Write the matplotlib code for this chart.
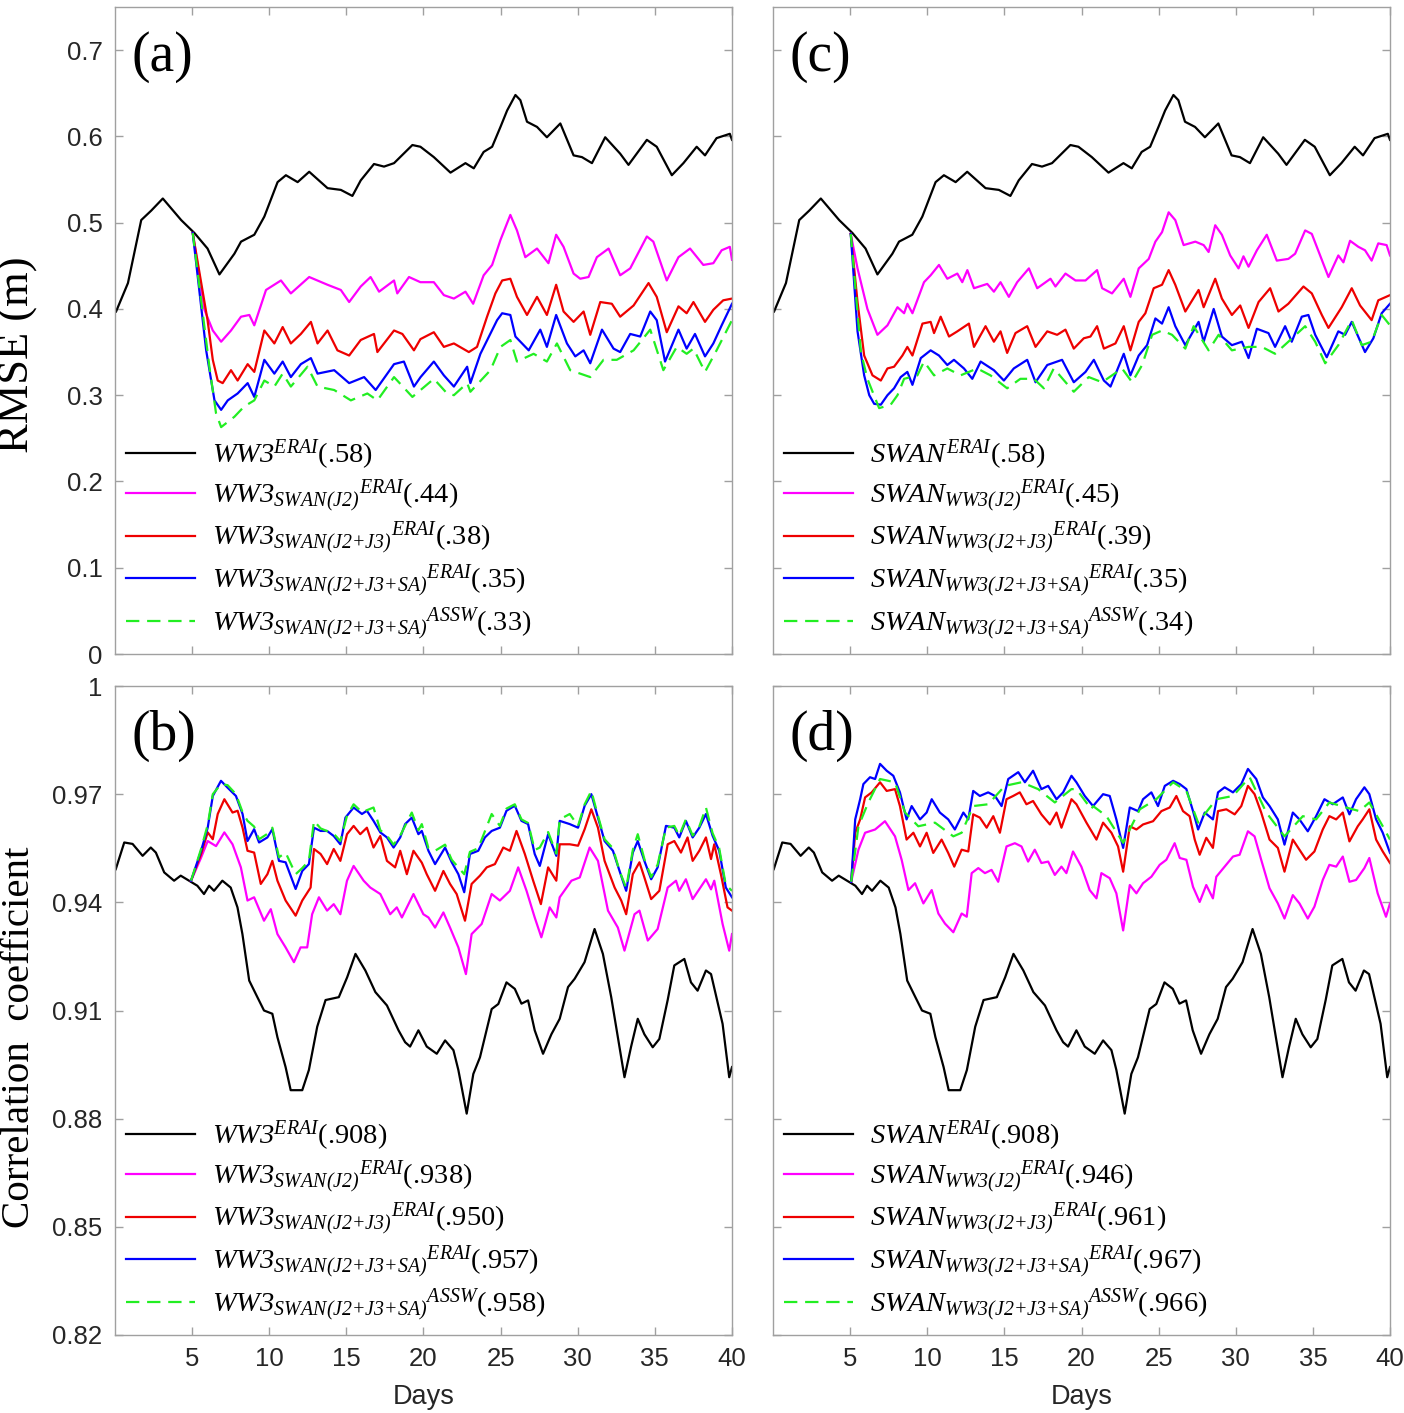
import numpy as np
import matplotlib
matplotlib.use("Agg")
import matplotlib.pyplot as plt
from matplotlib.font_manager import FontProperties

plt.rcParams['font.family'] = ['Liberation Sans', 'DejaVu Sans']
plt.rcParams['mathtext.fontset'] = 'custom'
plt.rcParams['mathtext.it'] = 'Liberation Serif:italic'
plt.rcParams['mathtext.rm'] = 'Liberation Serif:italic'
plt.rcParams['mathtext.bf'] = 'Liberation Serif:bold'

# ---------------- data (day, value) ----------------
bk_rmse = [(0.07,0.397),(0.84,0.430),(1.70,0.503),(2.35,0.514),(3.10,0.528),(4.29,0.503),(5.15,0.488),
 (6.00,0.470),(6.77,0.440),(7.74,0.464),(8.17,0.478),(9.03,0.486),(9.68,0.507),(10.54,0.547),(11.08,0.555),
 (11.84,0.547),(12.59,0.559),(13.78,0.540),(14.64,0.538),(15.39,0.531),(15.93,0.549),(16.79,0.568),
 (17.44,0.565),(18.09,0.569),(19.28,0.590),(19.80,0.588),(20.67,0.576),(21.75,0.558),(22.72,0.569),
 (23.26,0.563),(23.90,0.582),(24.45,0.588),(24.99,0.611),(25.42,0.630),(25.96,0.648),(26.28,0.642),
 (26.71,0.617),(27.36,0.611),(28.00,0.599),(28.87,0.615),(29.73,0.578),(30.27,0.576),(30.92,0.569),
 (31.78,0.599),(32.75,0.580),(33.29,0.567),(34.48,0.596),(35.12,0.588),(36.10,0.555),(36.85,0.569),
 (37.71,0.588),(38.25,0.578),(39.00,0.598),(39.86,0.603),(40.00,0.596)]

a_mag = [(5.04,0.488),(5.80,0.399),(6.34,0.375),(6.88,0.362),(7.52,0.375),(8.17,0.391),(8.71,0.393),
 (9.03,0.381),(9.79,0.422),(10.76,0.433),(11.40,0.418),(12.59,0.437),(13.78,0.428),(14.64,0.422),
 (15.18,0.408),(15.93,0.426),(16.57,0.437),(17.12,0.420),(18.09,0.433),(18.30,0.418),(19.06,0.437),
 (19.80,0.431),(20.67,0.431),(21.32,0.416),(21.97,0.412),(22.72,0.420),(23.22,0.406),(23.90,0.439),
 (24.45,0.451),(24.99,0.480),(25.63,0.509),(26.06,0.491),(26.60,0.460),(27.36,0.470),(28.10,0.453),
 (28.60,0.486),(29.08,0.472),(29.73,0.441),(30.16,0.435),(30.70,0.437),(31.24,0.460),(32.00,0.470),
 (32.75,0.439),(33.40,0.447),(34.48,0.484),(34.90,0.478),(35.77,0.433),(36.53,0.460),(37.28,0.470),
 (38.14,0.451),(38.79,0.453),(39.33,0.468),(39.86,0.472),(40.00,0.457)]

a_red = [(5.04,0.488),(6.00,0.387),(6.34,0.341),(6.66,0.317),(6.98,0.314),(7.52,0.329),(7.95,0.317),
 (8.60,0.336),(9.03,0.327),(9.68,0.375),(10.33,0.360),(10.87,0.379),(11.40,0.360),(12.05,0.371),
 (12.70,0.385),(13.13,0.360),(13.78,0.375),(14.42,0.352),(15.18,0.346),(15.93,0.364),(16.79,0.371),
 (17.01,0.350),(18.09,0.375),(18.63,0.371),(19.38,0.352),(19.80,0.365),(20.67,0.373),(21.32,0.356),
 (21.97,0.360),(22.94,0.350),(23.47,0.356),(24.12,0.391),(24.66,0.418),(25.10,0.433),(25.63,0.435),
 (26.06,0.414),(26.71,0.393),(27.36,0.414),(28.00,0.393),(28.60,0.428),(29.08,0.397),(29.73,0.385),
 (30.38,0.397),(30.81,0.370),(31.46,0.408),(32.21,0.406),(32.75,0.391),(33.62,0.404),(34.59,0.430),
 (35.12,0.414),(35.77,0.373),(36.53,0.403),(37.06,0.395),(37.50,0.408),(38.25,0.385),(38.79,0.399),
 (39.43,0.410),(40.00,0.412)]

a_blu = [(5.04,0.488),(5.91,0.352),(6.45,0.294),(6.88,0.283),(7.31,0.294),(7.95,0.302),(8.60,0.314),
 (9.03,0.298),(9.68,0.341),(10.33,0.325),(10.87,0.339),(11.40,0.321),(12.05,0.336),(12.70,0.343),
 (13.13,0.325),(14.21,0.329),(15.18,0.314),(16.15,0.321),(16.90,0.306),(18.09,0.336),(18.73,0.339),
 (19.38,0.310),(19.81,0.321),(20.67,0.339),(21.32,0.323),(21.97,0.310),(22.83,0.333),(23.04,0.314),
 (23.69,0.348),(24.77,0.387),(25.10,0.395),(25.63,0.393),(25.96,0.368),(26.82,0.352),(27.57,0.376),
 (28.00,0.356),(28.60,0.393),(29.30,0.360),(29.84,0.345),(30.38,0.352),(30.81,0.337),(31.57,0.376),
 (32.32,0.354),(32.75,0.350),(33.40,0.371),(34.05,0.368),(34.70,0.397),(35.12,0.387),(35.66,0.339),
 (36.53,0.376),(37.06,0.354),(37.60,0.371),(38.25,0.345),(38.79,0.360),(39.33,0.381),(40.00,0.406)]

a_grn = [(5.04,0.488),(6.12,0.333),(6.55,0.279),(6.88,0.263),(7.74,0.275),(8.38,0.287),(9.03,0.294),
 (9.68,0.317),(10.33,0.310),(10.87,0.325),(11.40,0.310),(12.48,0.333),(13.13,0.310),(14.21,0.306),
 (15.29,0.294),(16.36,0.302),(17.01,0.294),(18.09,0.321),(19.28,0.298),(19.81,0.306),(20.67,0.319),
 (21.53,0.302),(21.97,0.300),(22.83,0.314),(23.04,0.304),(24.34,0.329),(24.99,0.356),(25.63,0.364),
 (26.06,0.339),(27.14,0.348),(28.00,0.339),(28.65,0.360),(29.51,0.329),(30.81,0.321),(31.67,0.341),
 (32.53,0.341),(33.62,0.352),(34.70,0.376),(35.55,0.329),(36.42,0.356),(37.06,0.348),(37.50,0.354),
 (38.25,0.327),(39.00,0.352),(40.00,0.387)]

c_mag = [(5.04,0.487),(5.48,0.447),(6.12,0.400),(6.77,0.370),(7.42,0.381),(8.07,0.402),(8.50,0.395),
 (8.71,0.406),(9.04,0.395),(9.79,0.431),(10.22,0.439),(10.76,0.451),(11.30,0.435),(11.95,0.441),
 (12.27,0.431),(12.60,0.445),(13.03,0.424),(13.89,0.429),(14.32,0.420),(14.75,0.431),(15.29,0.414),
 (15.83,0.431),(16.59,0.447),(17.13,0.424),(17.99,0.435),(18.31,0.426),(18.96,0.441),(19.61,0.433),
 (20.26,0.433),(21.01,0.445),(21.34,0.424),(21.98,0.418),(22.74,0.435),(23.17,0.414),(23.71,0.447),
 (24.36,0.458),(24.79,0.478),(25.22,0.489),(25.65,0.512),(26.08,0.503),(26.62,0.474),(27.38,0.478),
 (27.92,0.474),(28.24,0.466),(28.67,0.497),(29.10,0.486),(29.64,0.462),(30.18,0.447),(30.50,0.461),
 (30.83,0.449),(31.37,0.468),(32.01,0.486),(32.66,0.456),(33.41,0.458),(33.85,0.464),(34.50,0.491),
 (34.93,0.487),(36.01,0.437),(36.65,0.462),(36.98,0.454),(37.41,0.479),(37.95,0.472),(38.38,0.468),
 (38.81,0.456),(39.24,0.476),(39.78,0.474),(40.00,0.462)]

c_red = [(5.04,0.487),(5.48,0.408),(5.91,0.346),(6.45,0.323),(6.99,0.317),(7.42,0.331),(7.85,0.333),
 (8.39,0.346),(8.71,0.356),(9.04,0.346),(9.69,0.383),(10.22,0.385),(10.44,0.372),(10.87,0.391),
 (11.41,0.368),(11.95,0.374),(12.70,0.383),(13.03,0.356),(13.78,0.380),(14.32,0.362),(14.75,0.374),
 (15.18,0.349),(15.72,0.372),(16.48,0.380),(17.02,0.356),(17.78,0.374),(18.42,0.370),(18.96,0.376),
 (19.50,0.354),(20.15,0.366),(20.58,0.368),(21.01,0.380),(21.45,0.354),(22.20,0.360),(22.74,0.380),
 (23.17,0.352),(23.71,0.385),(24.14,0.395),(24.68,0.424),(25.22,0.428),(25.65,0.445),(26.08,0.428),
 (26.73,0.397),(27.59,0.422),(27.92,0.402),(28.67,0.435),(29.10,0.412),(29.75,0.393),(30.29,0.404),
 (30.83,0.378),(31.48,0.408),(32.23,0.424),(32.77,0.397),(33.41,0.406),(34.39,0.426),(34.93,0.418),
 (35.58,0.393),(36.01,0.378),(36.87,0.402),(37.52,0.424),(38.06,0.404),(38.81,0.387),(39.24,0.410),
 (40.00,0.416)]

c_blu = [(5.04,0.487),(5.48,0.374),(5.91,0.323),(6.24,0.300),(6.56,0.290),(6.99,0.289),(7.42,0.300),
 (7.85,0.308),(8.28,0.321),(8.71,0.327),(9.04,0.312),(9.58,0.343),(10.22,0.352),(10.76,0.346),
 (11.30,0.335),(11.73,0.341),(12.38,0.331),(12.92,0.319),(13.46,0.339),(14.32,0.329),(14.97,0.317),
 (15.61,0.331),(16.48,0.341),(17.02,0.315),(17.78,0.335),(18.74,0.341),(19.50,0.315),(20.26,0.327),
 (20.80,0.341),(21.45,0.317),(21.88,0.310),(22.74,0.348),(23.17,0.323),(23.71,0.346),(24.25,0.358),
 (24.79,0.389),(25.22,0.383),(25.65,0.402),(26.08,0.380),(26.73,0.358),(27.59,0.385),(27.92,0.362),
 (28.57,0.400),(29.10,0.368),(29.75,0.358),(30.40,0.362),(30.83,0.343),(31.37,0.377),(32.12,0.372),
 (32.55,0.356),(33.20,0.380),(33.63,0.362),(34.28,0.391),(34.71,0.393),(35.15,0.370),(35.90,0.344),
 (36.65,0.374),(37.09,0.370),(37.52,0.385),(38.38,0.350),(38.92,0.366),(39.46,0.395),(40.00,0.406)]

c_grn = [(5.04,0.487),(5.70,0.350),(6.12,0.319),(6.88,0.285),(7.63,0.289),(8.07,0.300),(8.50,0.319),
 (9.36,0.323),(9.79,0.339),(10.44,0.323),(11.30,0.331),(12.16,0.323),(13.24,0.331),(14.10,0.323),
 (15.18,0.308),(16.04,0.319),(16.91,0.319),(17.56,0.308),(18.20,0.331),(19.50,0.304),(20.47,0.321),
 (21.34,0.315),(21.98,0.323),(22.63,0.331),(23.28,0.315),(23.93,0.335),(24.58,0.370),(25.22,0.375),
 (25.87,0.370),(26.73,0.354),(27.27,0.380),(28.24,0.352),(28.89,0.370),(29.75,0.352),(30.83,0.356),
 (31.69,0.356),(32.55,0.348),(33.41,0.362),(34.50,0.380),(35.15,0.362),(35.80,0.337),(36.65,0.358),
 (37.52,0.387),(38.17,0.358),(38.81,0.362),(39.46,0.393),(40.00,0.381)]

bk_corr = [(0.05,0.9492),(0.60,0.9566),(1.14,0.9562),(1.79,0.9529),(2.32,0.9552),(2.65,0.9538),
 (3.19,0.9483),(3.83,0.9460),(4.26,0.9474),(4.80,0.9460),(5.34,0.9446),(5.77,0.9423),(6.10,0.9446),
 (6.42,0.9432),(6.96,0.9460),(7.50,0.9441),(7.94,0.9386),(8.26,0.9312),(8.70,0.9183),(9.23,0.9137),
 (9.66,0.9100),(10.20,0.9091),(10.53,0.9026),(11.06,0.8943),(11.39,0.8879),(12.14,0.8879),
 (12.57,0.8935),(13.11,0.9055),(13.65,0.9129),(14.51,0.9137),(15.05,0.9192),(15.59,0.9257),
 (16.23,0.9211),(16.88,0.9151),(17.63,0.9114),(18.38,0.9045),(18.81,0.9012),(19.13,0.9000),
 (19.67,0.9045),(20.21,0.9000),(20.86,0.8980),(21.40,0.9017),(21.94,0.8990),(22.26,0.8935),
 (22.80,0.8814),(23.23,0.8924),(23.66,0.8970),(24.42,0.9104),(24.85,0.9118),(25.38,0.9178),
 (25.92,0.9160),(26.35,0.9119),(26.78,0.9128),(27.21,0.9045),(27.75,0.8980),(28.29,0.9034),
 (28.83,0.9077),(29.37,0.9165),(29.80,0.9188),(30.44,0.9234),(31.09,0.9326),(31.63,0.9257),
 (32.17,0.9137),(33.03,0.8915),(33.46,0.9000),(33.89,0.9077),(34.32,0.9034),(34.86,0.8998),
 (35.29,0.9021),(35.83,0.9129),(36.26,0.9225),(36.91,0.9243),(37.34,0.9178),(37.77,0.9155),
 (38.31,0.9211),(38.64,0.9201),(39.39,0.9063),(39.82,0.8915),(40.00,0.8943)]

b_mag = [(4.93,0.9460),(5.58,0.9524),(6.01,0.9570),(6.55,0.9556),(7.09,0.9594),(7.62,0.9561),
 (8.16,0.9497),(8.59,0.9405),(9.02,0.9414),(9.66,0.9349),(10.10,0.9381),(10.53,0.9312),(11.06,0.9275),
 (11.60,0.9234),(12.03,0.9275),(12.46,0.9275),(12.78,0.9367),(13.22,0.9414),(13.75,0.9377),
 (14.18,0.9395),(14.61,0.9367),(15.04,0.9460),(15.47,0.9501),(16.12,0.9460),(16.55,0.9441),
 (17.20,0.9423),(17.84,0.9367),(18.27,0.9386),(18.60,0.9358),(19.35,0.9423),(19.99,0.9367),
 (20.32,0.9358),(20.75,0.9330),(21.29,0.9372),(21.72,0.9330),(22.26,0.9275),(22.75,0.9201),
 (23.12,0.9312),(23.77,0.9340),(24.42,0.9423),(24.95,0.9405),(25.60,0.9432),(26.14,0.9497),
 (26.68,0.9432),(27.21,0.9358),(27.64,0.9303),(28.18,0.9386),(28.61,0.9358),(28.83,0.9414),
 (29.59,0.9460),(30.13,0.9469),(30.77,0.9552),(31.31,0.9515),(31.96,0.9377),(32.60,0.9330),
 (33.03,0.9266),(33.68,0.9367),(34.00,0.9377),(34.54,0.9294),(35.18,0.9326),(35.83,0.9441),
 (36.37,0.9460),(36.58,0.9432),(37.01,0.9464),(37.45,0.9409),(38.31,0.9464),(38.64,0.9436),
 (38.85,0.9460),(39.39,0.9340),(39.82,0.9266),(40.00,0.9312)]

b_red = [(4.93,0.9460),(5.58,0.9534),(6.01,0.9594),(6.34,0.9575),(6.66,0.9645),(7.09,0.9686),
 (7.62,0.9649),(7.95,0.9654),(8.27,0.9607),(8.59,0.9543),(9.02,0.9538),(9.45,0.9451),(9.88,0.9478),
 (10.20,0.9515),(10.53,0.9460),(11.06,0.9405),(11.71,0.9363),(12.14,0.9405),(12.68,0.9441),
 (12.90,0.9548),(13.33,0.9534),(13.75,0.9506),(14.18,0.9548),(14.61,0.9515),(15.04,0.9589),
 (15.47,0.9612),(15.90,0.9589),(16.33,0.9607),(16.76,0.9552),(17.20,0.9584),(17.63,0.9515),
 (18.16,0.9497),(18.49,0.9543),(18.92,0.9478),(19.35,0.9543),(19.89,0.9510),(20.21,0.9478),
 (20.75,0.9432),(21.29,0.9487),(21.72,0.9451),(22.15,0.9423),(22.69,0.9349),(23.12,0.9451),
 (23.66,0.9474),(24.10,0.9497),(24.63,0.9506),(25.17,0.9552),(25.60,0.9543),(26.03,0.9598),
 (26.57,0.9534),(27.11,0.9460),(27.61,0.9395),(28.08,0.9497),(28.61,0.9460),(28.83,0.9561),
 (29.48,0.9561),(30.02,0.9557),(30.45,0.9603),(30.88,0.9658),(31.31,0.9607),(31.74,0.9515),
 (32.39,0.9441),(32.82,0.9405),(33.14,0.9367),(33.57,0.9478),(34.00,0.9511),(34.32,0.9469),
 (34.76,0.9409),(35.29,0.9432),(35.83,0.9561),(36.26,0.9570),(36.69,0.9538),(37.12,0.9580),
 (37.45,0.9515),(37.88,0.9543),(38.31,0.9580),(38.64,0.9520),(38.85,0.9561),(39.28,0.9478),
 (39.71,0.9386),(40.00,0.9377)]

b_blu = [(4.93,0.9460),(5.58,0.9543),(6.01,0.9607),(6.34,0.9695),(6.87,0.9737),(7.30,0.9718),
 (7.84,0.9695),(8.27,0.9645),(8.59,0.9570),(9.02,0.9603),(9.34,0.9566),(9.88,0.9580),(10.20,0.9603),
 (10.63,0.9515),(11.06,0.9511),(11.71,0.9437),(12.14,0.9487),(12.57,0.9506),(12.90,0.9607),
 (13.33,0.9598),(13.75,0.9598),(14.18,0.9584),(14.61,0.9561),(14.94,0.9635),(15.47,0.9663),
 (16.01,0.9645),(16.33,0.9654),(16.76,0.9626),(17.20,0.9594),(17.63,0.9580),(18.06,0.9552),
 (18.49,0.9580),(18.81,0.9617),(19.24,0.9635),(19.67,0.9589),(19.89,0.9598),(20.32,0.9543),
 (20.75,0.9506),(21.40,0.9552),(21.83,0.9511),(22.26,0.9478),(22.64,0.9428),(23.01,0.9534),
 (23.55,0.9543),(23.98,0.9580),(24.42,0.9598),(24.95,0.9607),(25.38,0.9654),(25.92,0.9668),
 (26.35,0.9626),(26.78,0.9617),(27.21,0.9534),(27.54,0.9501),(28.08,0.9589),(28.61,0.9529),
 (28.83,0.9626),(29.48,0.9617),(30.02,0.9607),(30.45,0.9668),(30.88,0.9700),(31.31,0.9635),
 (31.74,0.9570),(32.28,0.9543),(32.71,0.9487),(33.14,0.9432),(33.57,0.9538),(33.89,0.9570),
 (34.32,0.9515),(34.76,0.9464),(35.18,0.9497),(35.72,0.9612),(36.26,0.9607),(36.58,0.9580),
 (37.01,0.9626),(37.45,0.9580),(37.88,0.9607),(38.31,0.9645),(38.74,0.9585),(39.17,0.9543),
 (39.60,0.9441),(40.00,0.9414)]

b_grn = [(4.93,0.9460),(5.58,0.9548),(6.01,0.9615),(6.34,0.9700),(6.87,0.9728),(7.30,0.9725),
 (7.84,0.9700),(8.27,0.9650),(8.59,0.9626),(9.02,0.9610),(9.34,0.9575),(9.88,0.9590),(10.20,0.9607),
 (10.63,0.9525),(11.06,0.9538),(11.71,0.9478),(12.14,0.9495),(12.57,0.9515),(12.90,0.9626),
 (13.33,0.9605),(14.18,0.9590),(14.61,0.9570),(15.04,0.9640),(15.47,0.9672),(16.01,0.9650),
 (16.76,0.9663),(17.20,0.9600),(17.63,0.9585),(18.06,0.9560),(18.49,0.9585),(19.24,0.9649),
 (19.67,0.9600),(19.89,0.9617),(20.32,0.9550),(20.75,0.9543),(21.40,0.9560),(21.83,0.9518),
 (22.64,0.9478),(23.01,0.9540),(23.55,0.9550),(24.42,0.9645),(24.95,0.9612),(25.38,0.9660),
 (25.92,0.9672),(26.35,0.9630),(26.78,0.9620),(27.21,0.9545),(27.54,0.9552),(28.08,0.9595),
 (28.61,0.9535),(28.83,0.9630),(29.48,0.9645),(30.02,0.9612),(30.45,0.9672),(30.88,0.9709),
 (31.31,0.9640),(31.74,0.9575),(32.28,0.9550),(32.71,0.9487),(33.14,0.9440),(33.57,0.9545),
 (33.89,0.9589),(34.32,0.9520),(34.76,0.9470),(35.18,0.9505),(35.72,0.9607),(36.26,0.9612),
 (36.58,0.9585),(37.01,0.9630),(37.45,0.9585),(37.88,0.9610),(38.31,0.9663),(38.74,0.9592),
 (39.17,0.9550),(39.60,0.9448),(40.00,0.9432)]

d_mag = [(5.07,0.9457),(5.54,0.9546),(5.97,0.9593),(6.62,0.9602),(7.26,0.9625),(7.91,0.9583),
 (8.34,0.9518),(8.78,0.9434),(9.21,0.9453),(9.75,0.9397),(10.29,0.9434),(10.72,0.9369),(11.15,0.9341),
 (11.69,0.9317),(12.23,0.9369),(12.56,0.9360),(12.88,0.9481),(13.31,0.9495),(13.74,0.9481),
 (14.17,0.9490),(14.60,0.9457),(15.14,0.9555),(15.68,0.9564),(16.11,0.9555),(16.54,0.9513),
 (16.97,0.9546),(17.40,0.9509),(17.84,0.9513),(18.27,0.9476),(18.70,0.9499),(19.02,0.9481),
 (19.45,0.9541),(19.99,0.9499),(20.53,0.9434),(20.97,0.9411),(21.29,0.9481),(21.83,0.9467),
 (22.26,0.9425),(22.70,0.9322),(23.13,0.9448),(23.56,0.9425),(23.99,0.9453),(24.53,0.9471),
 (25.07,0.9504),(25.50,0.9518),(26.04,0.9564),(26.37,0.9523),(26.80,0.9518),(27.23,0.9443),
 (27.66,0.9401),(28.09,0.9448),(28.52,0.9411),(28.74,0.9471),(29.28,0.9499),(29.82,0.9527),
 (30.25,0.9532),(30.79,0.9597),(31.22,0.9583),(31.65,0.9518),(32.19,0.9439),(32.73,0.9397),
 (33.16,0.9355),(33.70,0.9420),(34.13,0.9397),(34.67,0.9355),(35.10,0.9388),(35.64,0.9462),
 (36.07,0.9504),(36.51,0.9499),(36.94,0.9527),(37.37,0.9457),(37.80,0.9462),(38.34,0.9495),
 (38.66,0.9523),(39.20,0.9425),(39.74,0.9360),(40.00,0.9397)]

d_red = [(5.07,0.9457),(5.33,0.9593),(5.65,0.9630),(5.97,0.9691),(6.40,0.9705),(6.94,0.9733),
 (7.37,0.9709),(7.91,0.9714),(8.23,0.9667),(8.66,0.9574),(9.10,0.9593),(9.53,0.9555),(9.96,0.9593),
 (10.39,0.9537),(10.93,0.9574),(11.36,0.9537),(11.75,0.9499),(12.23,0.9546),(12.66,0.9541),
 (12.98,0.9644),(13.41,0.9635),(13.85,0.9607),(14.28,0.9639),(14.71,0.9593),(15.14,0.9686),
 (15.57,0.9695),(16.00,0.9705),(16.43,0.9672),(16.86,0.9681),(17.40,0.9644),(17.95,0.9616),
 (18.38,0.9649),(18.70,0.9607),(19.35,0.9686),(19.67,0.9672),(20.32,0.9621),(20.97,0.9574),
 (21.40,0.9621),(21.94,0.9593),(22.37,0.9555),(22.70,0.9485),(23.13,0.9611),(23.56,0.9602),
 (23.99,0.9616),(24.64,0.9625),(25.18,0.9653),(25.72,0.9663),(26.15,0.9695),(26.58,0.9653),
 (27.01,0.9639),(27.34,0.9574),(27.66,0.9532),(28.09,0.9579),(28.52,0.9551),(28.85,0.9653),
 (29.39,0.9658),(29.93,0.9644),(30.36,0.9667),(30.79,0.9723),(31.22,0.9700),(31.65,0.9649),
 (32.19,0.9574),(32.73,0.9551),(33.16,0.9485),(33.70,0.9574),(34.13,0.9546),(34.56,0.9518),
 (35.10,0.9541),(35.64,0.9602),(36.07,0.9639),(36.51,0.9630),(36.94,0.9649),(37.37,0.9569),
 (37.91,0.9611),(38.23,0.9630),(38.66,0.9658),(39.10,0.9574),(39.53,0.9541),(40.00,0.9509)]

d_blu = [(5.07,0.9457),(5.33,0.9630),(5.65,0.9686),(5.86,0.9728),(6.29,0.9747),(6.62,0.9742),
 (6.94,0.9784),(7.37,0.9765),(7.80,0.9751),(8.23,0.9705),(8.66,0.9630),(8.99,0.9667),(9.53,0.9630),
 (9.96,0.9649),(10.29,0.9686),(10.82,0.9649),(11.36,0.9630),(11.79,0.9602),(12.34,0.9649),
 (12.66,0.9630),(12.98,0.9709),(13.41,0.9695),(13.95,0.9705),(14.39,0.9695),(14.82,0.9667),
 (15.25,0.9742),(15.90,0.9761),(16.33,0.9733),(16.86,0.9765),(17.40,0.9714),(17.84,0.9723),
 (18.38,0.9686),(18.81,0.9705),(19.35,0.9751),(19.67,0.9733),(20.21,0.9695),(20.75,0.9667),
 (21.40,0.9700),(21.83,0.9695),(22.26,0.9630),(22.70,0.9551),(23.13,0.9663),(23.67,0.9653),
 (23.99,0.9686),(24.53,0.9705),(24.96,0.9667),(25.40,0.9723),(25.94,0.9737),(26.37,0.9728),
 (26.80,0.9714),(27.23,0.9653),(27.56,0.9602),(27.99,0.9649),(28.52,0.9630),(28.85,0.9705),
 (29.28,0.9719),(29.82,0.9705),(30.36,0.9728),(30.79,0.9770),(31.33,0.9742),(31.76,0.9691),
 (32.19,0.9667),(32.73,0.9630),(33.16,0.9560),(33.70,0.9649),(34.13,0.9630),(34.67,0.9597),
 (35.21,0.9639),(35.75,0.9686),(36.29,0.9672),(36.94,0.9691),(37.37,0.9644),(37.80,0.9686),
 (38.34,0.9719),(38.66,0.9700),(39.10,0.9630),(39.53,0.9593),(40.00,0.9537)]

d_grn = [(5.07,0.9457),(5.54,0.9611),(6.18,0.9677),(6.94,0.9742),(7.91,0.9733),(8.56,0.9649),
 (9.42,0.9611),(10.50,0.9621),(11.69,0.9583),(12.23,0.9593),(12.98,0.9667),(13.95,0.9672),
 (15.03,0.9723),(16.11,0.9733),(17.19,0.9714),(18.27,0.9677),(19.35,0.9714),(19.67,0.9714),
 (20.64,0.9658),(20.75,0.9667),(21.62,0.9639),(22.70,0.9565),(23.78,0.9658),(24.85,0.9686),
 (25.94,0.9733),(26.80,0.9709),(27.56,0.9621),(28.74,0.9686),(29.82,0.9695),(30.90,0.9747),
 (31.98,0.9649),(33.16,0.9583),(34.35,0.9639),(35.21,0.9630),(36.07,0.9677),(37.15,0.9663),
 (38.02,0.9653),(38.66,0.9677),(39.53,0.9611),(40.00,0.9574)]

rmse_ticks = [0, 0.1, 0.2, 0.3, 0.4, 0.5, 0.6, 0.7]
corr_ticks = [0.82, 0.85, 0.88, 0.91, 0.94, 0.97, 1.0]
corr_ticklabels = ['0.82', '0.85', '0.88', '0.91', '0.94', '0.97', '1']
day_ticks = [5, 10, 15, 20, 25, 30, 35, 40]

a_vals = ['.58', '.44', '.38', '.35', '.33']
c_vals = ['.58', '.45', '.39', '.35', '.34']
b_vals = ['.908', '.938', '.950', '.957', '.958']
d_vals = ['.908', '.946', '.961', '.967', '.966']

# ---------------- styling ----------------
colors = ['black', '#ff00ff', '#ee0000', '#0000ff', '#22ee22']
styles = ['-', '-', '-', '-', (0, (6, 3.5))]
spine_col = '#a0a0a0'
tick_txt = '#262626'


def labels(model, other, vals):
    subs = [None, other + '(J2)', other + '(J2{+}J3)', other + '(J2{+}J3{+}SA)',
            other + '(J2{+}J3{+}SA)']
    sups = ['ERAI', 'ERAI', 'ERAI', 'ERAI', 'ASSW']
    out = []
    for s, p, v in zip(subs, sups, vals):
        if s is None:
            out.append(r'$%s^{%s}$(%s)' % (model, p, v))
        else:
            out.append(r'$%s_{%s}{}^{%s}$(%s)' % (model, s, p, v))
    return out


fig = plt.figure(figsize=(14.04, 14.13), dpi=100)
W, H = 1404.0, 1413.0
def rect(l, r, t, b):
    return [l / W, 1 - b / H, (r - l) / W, (b - t) / H]

ax_a = fig.add_axes(rect(115, 732, 7, 654))
ax_c = fig.add_axes(rect(773, 1390, 7, 654))
ax_b = fig.add_axes(rect(115, 732, 686, 1335))
ax_d = fig.add_axes(rect(773, 1390, 686, 1335))

legfont = FontProperties(family='Liberation Serif', size=20.5)

panels = [
    (ax_a, '(a)', bk_rmse, [a_mag, a_red, a_blu, a_grn], labels('WW3', 'SWAN', a_vals), 'rmse'),
    (ax_c, '(c)', bk_rmse, [c_mag, c_red, c_blu, c_grn], labels('SWAN', 'WW3', c_vals), 'rmse'),
    (ax_b, '(b)', bk_corr, [b_mag, b_red, b_blu, b_grn], labels('WW3', 'SWAN', b_vals), 'corr'),
    (ax_d, '(d)', bk_corr, [d_mag, d_red, d_blu, d_grn], labels('SWAN', 'WW3', d_vals), 'corr'),
]

for ax, tag, bk, series, labs, kind in panels:
    allser = [bk] + series
    for ser, col, ls, lab in zip(allser, colors, styles, labs):
        arr = np.array(ser)
        ax.plot(arr[:, 0], arr[:, 1], color=col, lw=1.6, linestyle=ls, label=lab)
    ax.set_xlim(0, 40)
    ax.set_xticks(day_ticks)
    if kind == 'rmse':
        ax.set_ylim(0, 0.75)
        ax.set_yticks(rmse_ticks)
        ax.set_yticklabels([('%g' % t) for t in rmse_ticks])
    else:
        ax.set_ylim(0.82, 1.0)
        ax.set_yticks(corr_ticks)
        ax.set_yticklabels(corr_ticklabels)
    ax.tick_params(direction='in', top=True, right=True, length=6, width=1,
                   color=spine_col, labelcolor=tick_txt, labelsize=18.5, pad=9)
    for sp in ax.spines.values():
        sp.set_color(spine_col)
        sp.set_linewidth(1.0)
    if ax in (ax_c, ax_d):
        ax.tick_params(labelleft=False)
    if ax in (ax_a, ax_c):
        ax.tick_params(labelbottom=False)
    else:
        ax.set_xlabel('Days', fontsize=19.5, color=tick_txt, labelpad=9)
    ax.text(0.027, 0.963, tag, transform=ax.transAxes, fontsize=40,
            family='Liberation Serif', va='top', ha='left')
    ax.legend(loc='lower left', frameon=False, prop=legfont, handlelength=2.4,
              handletextpad=0.6, labelspacing=0.19, borderpad=0.4, borderaxespad=0.0,
              bbox_to_anchor=(0.0, 0.0))

ax_a.set_ylabel('RMSE (m)', fontsize=32, family='Liberation Serif')
ax_a.yaxis.set_label_coords(-0.125, 0.462)
ax_b.set_ylabel('Correlation  coefficient', fontsize=29.5, family='Liberation Serif')
ax_b.yaxis.set_label_coords(-0.125, 0.459)

fig.savefig('out.png', dpi=100)
